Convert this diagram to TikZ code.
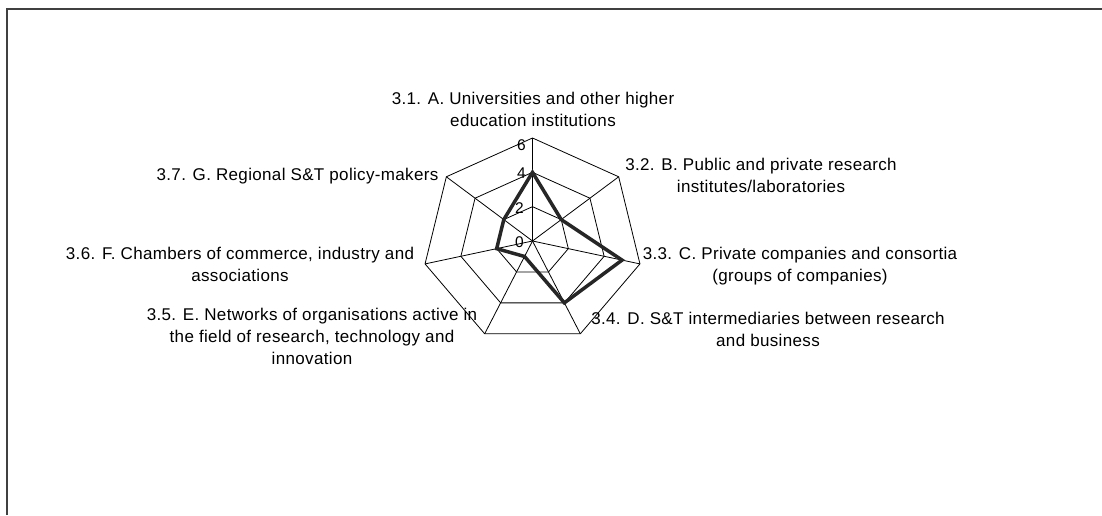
\documentclass[tikz,border=0pt]{standalone}
\usepackage{fontspec}
\setmainfont{Liberation Sans}[LetterSpace=2]

\tikzset{
  axislabel/.style={align=center, anchor=north, inner sep=0pt, font=\fontsize{17}{22}\selectfont},
  ticklabel/.style={anchor=east, inner sep=0pt, font=\fontsize{15.5}{16}\selectfont},
  gridline/.style={black, line width=0.8pt},
  dataline/.style={black!85, line width=3.5pt}
}

\begin{document}
\begin{tikzpicture}[x=1pt,y=1pt]
\useasboundingbox (0,0) rectangle (1102,515);

%Frame
\draw[black!75, line width=2pt] (7,0) -- (7,506) -- (1102,506);

%*** Radar ***
\def\unit{17.1667}
\begin{scope}[shift={(532.5,274)}, xscale=1.07]
%Spokes
\foreach \k in {0,...,6}
  \coordinate (v\k) at ({90-\k*360/7}:{6*\unit});
\foreach \k in {0,...,6}
  \draw[gridline] (0,0) -- (v\k);

%Grid
\foreach \r in {2,4,6}
  \draw[gridline] (90:{\r*\unit}) \foreach \k in {1,...,6}{ -- ({90-\k*360/7}:{\r*\unit})} -- cycle;

%Data
\foreach \val [count=\k from 0] in {4,2,5,4,1,2,2}
  \coordinate (d\k) at ({90-\k*360/7}:{\val*\unit});
\draw[dataline] (d0) -- (d1) -- (d2) -- (d3) -- (d4) -- (d5) -- (d6) -- cycle;
\end{scope}

%Ticks
\node[ticklabel] (t6) at (526,370) {6};
\node[ticklabel] (t4) at (526,342) {4};
\node[ticklabel] (t2) at (524,307) {2};
\node[ticklabel] (t0) at (524,273) {0};

%Labels
\node[axislabel] (labA) at (533,423) {3.1. A. Universities and other higher\\education institutions};
\node[axislabel] (labB) at (761,357) {3.2. B. Public and private research\\institutes/laboratories};
\node[axislabel] (labC) at (800,268) {3.3. C. Private companies and consortia\\(groups of companies)};
\node[axislabel] (labD) at (768,203) {3.4. D. S\&T intermediaries between research\\and business};
\node[axislabel] (labE) at (312,207) {3.5. E. Networks of organisations active in\\the field of research, technology and\\innovation};
\node[axislabel] (labF) at (240,268) {3.6. F. Chambers of commerce, industry and\\associations};
\node[axislabel] (labG) at (297.5,347) {3.7. G. Regional S\&T policy-makers};
\end{tikzpicture}
\end{document}
